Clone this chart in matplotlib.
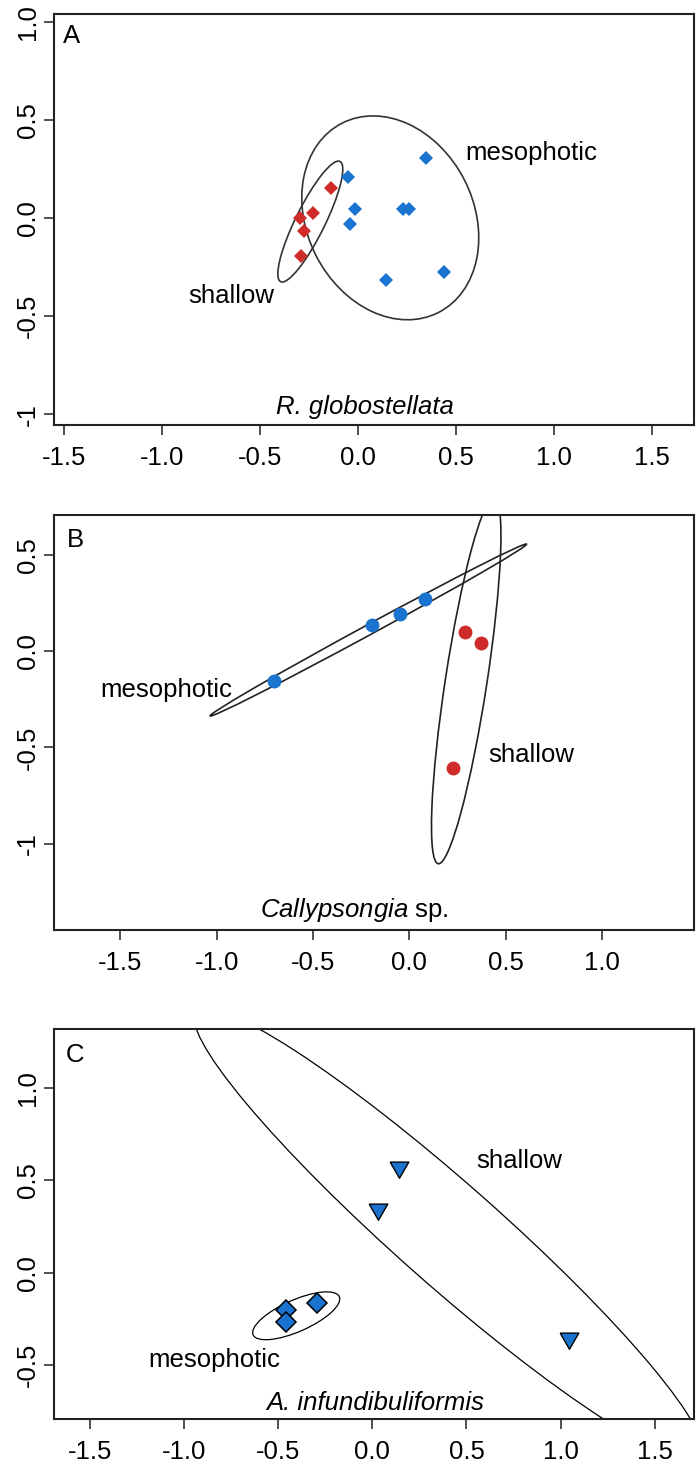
"""Three ordination panels (A, B, C) with group ellipses, drawn with matplotlib"""

import matplotlib
matplotlib.use("Agg")
import matplotlib.pyplot as plt
from matplotlib.patches import Ellipse

plt.rcParams['font.family'] = ['Liberation Sans', 'DejaVu Sans']
plt.rcParams['mathtext.fontset'] = 'custom'
plt.rcParams['mathtext.rm'] = 'Liberation Sans'
plt.rcParams['mathtext.it'] = 'Liberation Sans:italic'

FONT_SIZE = 18.5
BLUE = '#1a73cf'
RED = '#d02b2b'

# ---- panel A: R. globostellata ----
a_shallow_x = [-0.297, -0.230, -0.276, -0.292, -0.141]
a_shallow_y = [0.000, 0.026, -0.063, -0.191, 0.156]
a_meso_x = [-0.053, -0.017, -0.042, 0.227, 0.260, 0.345, 0.141, 0.437]
a_meso_y = [0.211, 0.046, -0.029, 0.046, 0.046, 0.309, -0.315, -0.276]
# ellipses: centre x, centre y, semi-major, semi-minor, angle (deg)
a_shallow_ell = [-0.245, -0.017, 0.342, 0.075, 63.7]
a_meso_ell = [0.163, 0.002, 0.542, 0.425, 117.0]

# ---- panel B: Callypsongia sp. ----
b_meso_x = [-0.702, -0.195, -0.048, 0.081]
b_meso_y = [-0.156, 0.135, 0.190, 0.270]
b_shallow_x = [0.289, 0.370, 0.225]
b_shallow_y = [0.100, 0.040, -0.606]
b_meso_ell = [-0.213, 0.109, 0.934, 0.026, 28.5]
b_shallow_ell = [0.295, -0.155, 0.960, 0.108, 81.3]

# ---- panel C: A. infundibuliformis ----
c_meso_x = [-0.458, -0.458, -0.292]
c_meso_y = [-0.202, -0.265, -0.162]
c_shallow_x = [0.144, 0.032, 1.042]
c_shallow_y = [0.570, 0.346, -0.355]
c_meso_ell = [-0.404, -0.233, 0.251, 0.085, 24.4]
c_shallow_ell = [0.405, 0.207, 1.80, 0.272, -42.0]

# axis limits and ticks
a_xlim, a_ylim = (-1.553, 1.713), (-1.055, 1.042)
b_xlim, b_ylim = (-1.844, 1.477), (-1.448, 0.706)
c_xlim, c_ylim = (-1.690, 1.708), (-0.791, 1.316)

a_xticks = [-1.5, -1.0, -0.5, 0.0, 0.5, 1.0, 1.5]
a_yticks = [-1.0, -0.5, 0.0, 0.5, 1.0]
a_yticklabels = ['-1', '-0.5', '0.0', '0.5', '1.0']
b_xticks = [-1.5, -1.0, -0.5, 0.0, 0.5, 1.0]
b_yticks = [-1.0, -0.5, 0.0, 0.5]
b_yticklabels = ['-1', '-0.5', '0.0', '0.5']
c_xticks = [-1.5, -1.0, -0.5, 0.0, 0.5, 1.0, 1.5]
c_yticks = [-0.5, 0.0, 0.5, 1.0]
c_yticklabels = ['-0.5', '0.0', '0.5', '1.0']

# down triangle like R pch 25
TRIANGLE = [(-1.0, 0.577), (1.0, 0.577), (0.0, -1.155), (-1.0, 0.577)]


def add_ellipse(ax, ell, color, lw):
    cx, cy, a, b, ang = ell
    ax.add_patch(Ellipse((cx, cy), 2 * a, 2 * b, angle=ang, fill=False,
                         edgecolor=color, linewidth=lw))


def style_axes(ax, xlim, ylim, xticks, yticks, yticklabels):
    ax.set_xlim(*xlim)
    ax.set_ylim(*ylim)
    ax.set_xticks(xticks)
    ax.set_xticklabels(['%.1f' % v for v in xticks])
    ax.set_yticks(yticks)
    ax.set_yticklabels(yticklabels, rotation=90, va='center')
    ax.tick_params(direction='out', length=7.2, width=1.1,
                   labelsize=FONT_SIZE, color='#222222')
    ax.tick_params(axis='x', pad=8)
    ax.tick_params(axis='y', pad=3)
    for sp in ax.spines.values():
        sp.set_linewidth(1.5)
        sp.set_color('#222222')


fig = plt.figure(figsize=(7, 14.72), dpi=100)
W, H = 700.0, 1472.0


def make_axes(left, top, right, bottom):
    return fig.add_axes([left / W, 1 - bottom / H, (right - left) / W,
                         (bottom - top) / H])


# panel A
ax = make_axes(54, 14, 694, 425)
add_ellipse(ax, a_meso_ell, '#333333', 1.2)
add_ellipse(ax, a_shallow_ell, '#333333', 1.2)
ax.plot(a_meso_x, a_meso_y, 'D', color=BLUE, ms=7.6, mew=0, ls='none')
ax.plot(a_shallow_x, a_shallow_y, 'D', color=RED, ms=7.6, mew=0, ls='none')
ax.text(0.544, 0.296, 'mesophotic', fontsize=FONT_SIZE, va='baseline')
ax.text(-0.867, -0.434, 'shallow', fontsize=FONT_SIZE, va='baseline')
ax.text(0.0136, 0.930, 'A', transform=ax.transAxes, fontsize=FONT_SIZE,
        va='baseline')
ax.text(0.4855, 0.026, 'R. globostellata', transform=ax.transAxes,
        fontsize=FONT_SIZE, style='italic', ha='center', va='baseline')
style_axes(ax, a_xlim, a_ylim, a_xticks, a_yticks, a_yticklabels)

# panel B
ax = make_axes(54, 515, 694, 930)
add_ellipse(ax, b_meso_ell, '#222222', 1.2)
add_ellipse(ax, b_shallow_ell, '#222222', 1.2)
ax.plot(b_meso_x, b_meso_y, 'o', color=BLUE, ms=10, mew=0, ls='none')
ax.plot(b_shallow_x, b_shallow_y, 'o', color=RED, ms=10, mew=0, ls='none')
ax.text(-1.605, -0.237, 'mesophotic', fontsize=FONT_SIZE, va='baseline')
ax.text(0.410, -0.574, 'shallow', fontsize=FONT_SIZE, va='baseline')
ax.text(0.0198, 0.9236, 'B', transform=ax.transAxes, fontsize=FONT_SIZE,
        va='baseline')
ax.text(0.469, 0.032, r'$\mathit{Callypsongia}$ sp.', transform=ax.transAxes,
        fontsize=FONT_SIZE, ha='center', va='baseline')
style_axes(ax, b_xlim, b_ylim, b_xticks, b_yticks, b_yticklabels)

# panel C
ax = make_axes(54, 1029.3, 694, 1419)
add_ellipse(ax, c_shallow_ell, 'black', 0.9)
add_ellipse(ax, c_meso_ell, 'black', 0.9)
ax.plot(c_meso_x, c_meso_y, 'D', color=BLUE, ms=10.5, mec='black', mew=1.1,
        ls='none')
ax.plot(c_shallow_x, c_shallow_y, marker=TRIANGLE, color=BLUE, ms=15.5,
        mec='black', mew=1.0, ls='none')
ax.text(-1.190, -0.508, 'mesophotic', fontsize=FONT_SIZE, va='baseline')
ax.text(0.551, 0.565, 'shallow', fontsize=FONT_SIZE, va='baseline')
ax.text(0.018, 0.917, 'C', transform=ax.transAxes, fontsize=FONT_SIZE,
        va='baseline')
ax.text(0.5016, 0.023, 'A. infundibuliformis', transform=ax.transAxes,
        fontsize=FONT_SIZE, style='italic', ha='center', va='baseline')
style_axes(ax, c_xlim, c_ylim, c_xticks, c_yticks, c_yticklabels)

plt.savefig('out.png', dpi=100)
